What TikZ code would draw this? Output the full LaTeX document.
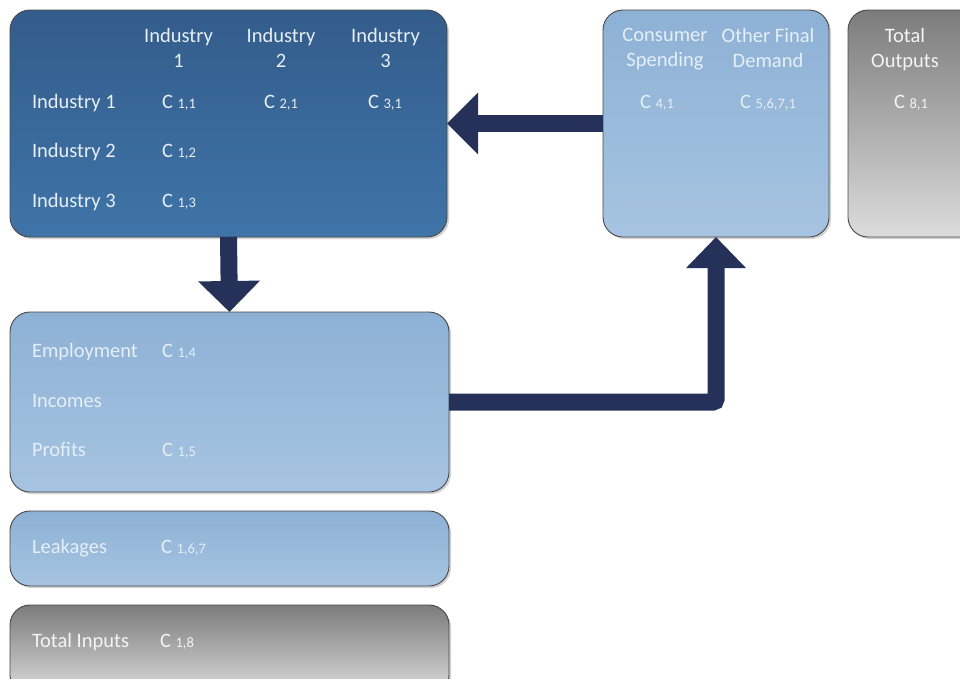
\documentclass[tikz,border=0pt]{standalone}
\usepackage{fontspec}
\setmainfont{Carlito}
\usetikzlibrary{arrows.meta,shadows}
\definecolor{navy}{HTML}{263159}
\definecolor{dkA}{HTML}{335C8B}
\definecolor{dkB}{HTML}{3F74A8}
\definecolor{ltA}{HTML}{8DB1D5}
\definecolor{ltB}{HTML}{A6C4E1}
\definecolor{grA}{HTML}{7C7C7C}
\definecolor{grB}{HTML}{DCDCDC}
\definecolor{txdk}{HTML}{E8EEF5}
\definecolor{txlt}{HTML}{E6EEF7}
\definecolor{txgr}{HTML}{F4F4F4}
\newcommand\csub[1]{C {\fontsize{14.5}{14.5}\selectfont #1}}
\tikzset{
  box/.style={rectangle, rounded corners=20pt, draw=black!72, line width=0.9pt,
    inner sep=0pt, outer sep=0pt, anchor=north west,
    drop shadow={opacity=0.35, shadow xshift=2pt, shadow yshift=-2pt}},
  darkbox/.style={box, top color=dkA, bottom color=dkB},
  lightbox/.style={box, top color=ltA, bottom color=ltB},
  graybox/.style={box, top color=grA, bottom color=grB},
  txt/.style={inner sep=0pt, outer sep=0pt, font=\fontsize{20.5}{24.5}\selectfont},
  lab/.style={txt, anchor=base west},
  head/.style={txt, anchor=north, align=center},
  fat/.style={draw=navy, line width=17pt},
  fathead/.style={-{Triangle[width=60pt,length=31pt]}}
}
\begin{document}
\begin{tikzpicture}[x=1pt,y=-1pt]
\clip (0,0) rectangle (960,678);
\fill[white] (0,0) rectangle (960,678);

% boxes
\node[darkbox, minimum width=437pt, minimum height=227pt] (b1) at (10,10) {};
\node[lightbox, minimum width=226pt, minimum height=227pt] (b2) at (603,10) {};
\node[graybox, minimum width=140pt, minimum height=227pt] (b3) at (848,10) {};
\node[lightbox, minimum width=439pt, minimum height=180pt] (b4) at (10,312) {};
\node[lightbox, minimum width=439pt, minimum height=75pt] (b5) at (10,511) {};
\node[graybox, minimum width=439pt, minimum height=90pt] (b6) at (10,605) {};

% arrows
\draw[fat, fathead] (b1.south) -- (b4.north);
\draw[fat, fathead] (b2.west) -- (b1.east);
\draw[fat, rounded corners=3pt, -{Triangle[width=58pt,length=31pt]}] (b4.east) -| (b2.south);

% industry matrix
\node[head, text=txdk] (h1) at (178.5,28.5) {Industry\\1};
\node[head, text=txdk] (h2) at (281,28.5) {Industry\\2};
\node[head, text=txdk] (h3) at (385.5,28.5) {Industry\\3};
\node[lab, text=txdk] (r1) at (32,108) {Industry 1};
\node[lab, text=txdk] (r2) at (32,157.5) {Industry 2};
\node[lab, text=txdk] (r3) at (32,207) {Industry 3};
\node[lab, text=txdk] (c11) at (162,108) {\csub{1,1}};
\node[lab, text=txdk] (c21) at (264,108) {\csub{2,1}};
\node[lab, text=txdk] (c31) at (368,108) {\csub{3,1}};
\node[lab, text=txdk] (c12) at (162,157.5) {\csub{1,2}};
\node[lab, text=txdk] (c13) at (162,207) {\csub{1,3}};

% final demand
\node[head, text=txlt] (fd1) at (665,28.5) {Consumer\\Spending};
\node[head, text=txlt] (fd2) at (768,28.5) {Other Final\\Demand};
\node[lab, text=txlt] (c41) at (640,108) {\csub{4,1}};
\node[lab, text=txlt] (c51) at (740,108) {\csub{5,6,7,1}};

% total outputs
\node[head, text=txgr] (to) at (905,28.5) {Total\\Outputs};
\node[lab, text=txgr] (c81) at (894,108) {\csub{8,1}};

% value added
\node[lab, text=txlt] (emp) at (32,357) {Employment};
\node[lab, text=txlt] (c14) at (162,357) {\csub{1,4}};
\node[lab, text=txlt] (inc) at (32,407) {Incomes};
\node[lab, text=txlt] (pro) at (32,456.5) {Profits};
\node[lab, text=txlt] (c15) at (162,456.5) {\csub{1,5}};

% leakages
\node[lab, text=txlt] (lea) at (32,553) {Leakages};
\node[lab, text=txlt] (c167) at (161,553) {\csub{1,6,7}};

% total inputs
\node[lab, text=txgr] (ti) at (32,647) {Total Inputs};
\node[lab, text=txgr] (c18) at (160,647) {\csub{1,8}};
\end{tikzpicture}
\end{document}
